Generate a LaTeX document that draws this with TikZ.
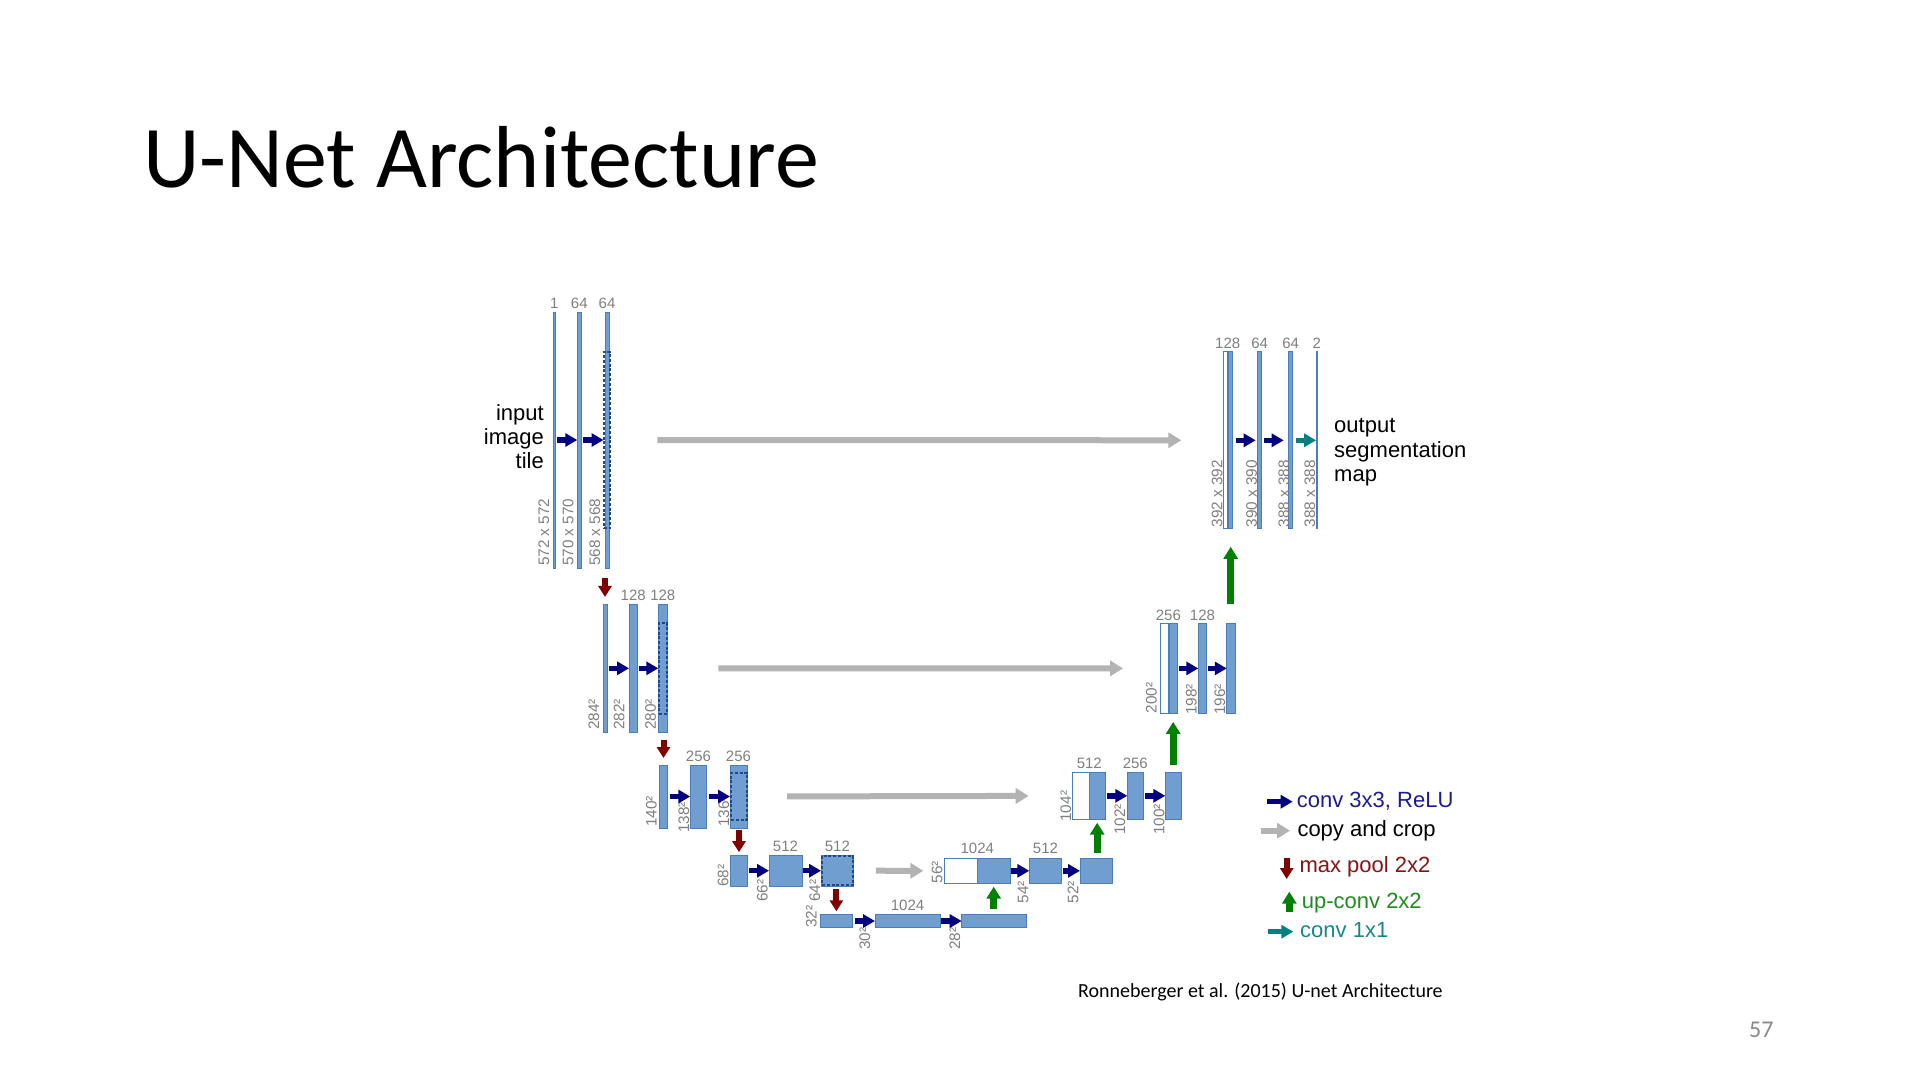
\documentclass[tikz,border=0pt]{standalone}
\usepackage{fontspec}
\setmainfont{Liberation Sans}
\newfontfamily\slidefont{Carlito}
\usetikzlibrary{arrows.meta}

\definecolor{barfill}{RGB}{112,158,209}
\definecolor{barline}{RGB}{74,126,187}
\definecolor{cropline}{RGB}{32,72,142}
\definecolor{convc}{RGB}{0,0,128}
\definecolor{copyc}{RGB}{179,179,179}
\definecolor{poolc}{RGB}{128,0,0}
\definecolor{upc}{RGB}{0,128,0}
\definecolor{onec}{RGB}{0,128,128}
\definecolor{dimc}{RGB}{128,128,128}
\definecolor{pagec}{RGB}{137,137,137}
\definecolor{convtxt}{RGB}{28,28,145}
\definecolor{pooltxt}{RGB}{135,20,20}
\definecolor{uptxt}{RGB}{30,140,30}
\definecolor{onetxt}{RGB}{25,135,135}

\tikzset{
  fmap/.style={draw=barline, fill=barfill, line width=0.8pt, inner sep=0pt, outer sep=0pt},
  cmap/.style={draw=barline, fill=white, line width=0.8pt, inner sep=0pt, outer sep=0pt},
  cropbox/.style={draw=cropline, line width=2pt, dash pattern=on 3pt off 1.8pt, inner sep=0pt, outer sep=0pt},
  conv/.style={draw=convc, line width=5.5pt, -{Triangle[length=12pt,width=13pt]}},
  convone/.style={draw=onec, line width=5.5pt, -{Triangle[length=12pt,width=13pt]}},
  copycrop/.style={draw=copyc, line width=6pt, -{Triangle[length=13pt,width=15pt]}},
  maxpool/.style={draw=poolc, line width=6pt, -{Triangle[length=11pt,width=13pt]}},
  upconv/.style={draw=upc, line width=7pt, -{Triangle[length=12pt,width=14pt]}},
  chan/.style={font=\fontsize{15}{17}\selectfont, text=dimc, inner sep=0pt, anchor=south},
  dim/.style={font=\fontsize{15.3}{17}\selectfont, text=dimc, inner sep=0pt, rotate=90, anchor=south west},
  side/.style={font=\fontsize{22}{24}\selectfont, text=black, inner sep=0pt},
  legend/.style={font=\fontsize{22}{24}\selectfont, inner sep=0pt, anchor=base west}
}

\begin{document}
\begin{tikzpicture}[x=1pt,y=-1pt]
\fill[white] (0,0) rectangle (1920,1080);
\useasboundingbox (0,0) rectangle (1920,1080);

% slide title, source and page number
\node[inner sep=0pt, anchor=base west, font=\slidefont\fontsize{88}{100}\selectfont] (title) at (143,187) {U-Net Architecture};
\node[inner sep=0pt, anchor=base west, font=\slidefont\fontsize{20}{24}\selectfont] (source) at (1078,997) {Ronneberger et al. (2015) U-net Architecture};
\node[inner sep=0pt, anchor=base west, text=pagec, font=\slidefont\fontsize{24}{28}\selectfont] (page) at (1749,1037) {57};

% ---------- contracting path ----------
% level 1
\node[fmap, minimum width=1.2pt, minimum height=256pt] (e1a) at (554.3,440) {};
\node[fmap, minimum width=4pt, minimum height=256pt] (e1b) at (579.3,440) {};
\node[fmap, minimum width=4pt, minimum height=256pt] (e1c) at (607,440) {};
\node[cropbox, minimum width=6.5pt, minimum height=176pt] (k1) at (607,440) {};
% level 2
\node[fmap, minimum width=4pt, minimum height=128.7pt] (e2a) at (605,668.3) {};
\node[fmap, minimum width=8.3pt, minimum height=128.7pt] (e2b) at (633.2,668.3) {};
\node[fmap, minimum width=9pt, minimum height=128.7pt] (e2c) at (662.8,668.3) {};
\node[cropbox, minimum width=8pt, minimum height=90.6pt] (k2) at (662.8,668.3) {};
% level 3
\node[fmap, minimum width=8.4pt, minimum height=63pt] (e3a) at (663.5,796.5) {};
\node[fmap, minimum width=16.4pt, minimum height=63pt] (e3b) at (698.5,796.5) {};
\node[fmap, minimum width=17pt, minimum height=63pt] (e3c) at (738.5,796.5) {};
\node[cropbox, minimum width=15.5pt, minimum height=47.7pt] (k3) at (738.8,796.5) {};
% level 4
\node[fmap, minimum width=16.6pt, minimum height=31pt] (e4a) at (739,870.7) {};
\node[fmap, minimum width=33pt, minimum height=31pt] (e4b) at (785.5,870.7) {};
\node[fmap, minimum width=32.7pt, minimum height=31pt] (e4c) at (837.4,870.7) {};
\node[cropbox, minimum width=31pt, minimum height=29pt] (k4) at (837.4,870.7) {};
% bottom
\node[fmap, minimum width=32.7pt, minimum height=13.4pt] (e5a) at (836.4,921) {};
\node[fmap, minimum width=65pt, minimum height=13.4pt] (e5b) at (907.5,921) {};
\node[fmap, minimum width=65pt, minimum height=13.4pt] (e5c) at (994.2,921) {};

% ---------- expansive path ----------
% level 4
\node[cmap, minimum width=33pt, minimum height=25pt] (d4w) at (960.8,870.8) {};
\node[fmap, minimum width=32.7pt, minimum height=25pt] (d4b) at (993.7,870.8) {};
\node[fmap, minimum width=32.4pt, minimum height=25pt] (d4c) at (1045.5,870.8) {};
\node[fmap, minimum width=32.3pt, minimum height=25pt] (d4d) at (1096.2,870.8) {};
% level 3
\node[cmap, minimum width=16.6pt, minimum height=47pt] (d3w) at (1081,795.8) {};
\node[fmap, minimum width=15.7pt, minimum height=47pt] (d3b) at (1097.2,795.8) {};
\node[fmap, minimum width=16pt, minimum height=47pt] (d3c) at (1135.3,795.8) {};
\node[fmap, minimum width=16.4pt, minimum height=47pt] (d3d) at (1173.5,795.8) {};
% level 2
\node[cmap, minimum width=8.3pt, minimum height=89.6pt] (d2w) at (1164.2,668.4) {};
\node[fmap, minimum width=8.3pt, minimum height=89.6pt] (d2b) at (1173.2,668.4) {};
\node[fmap, minimum width=8.4pt, minimum height=89.6pt] (d2c) at (1202.5,668.4) {};
\node[fmap, minimum width=8.3pt, minimum height=89.6pt] (d2d) at (1230.9,668.4) {};
% level 1
\node[cmap, minimum width=4.4pt, minimum height=177pt] (d1w) at (1225.5,440.3) {};
\node[fmap, minimum width=4pt, minimum height=177pt] (d1b) at (1230.7,440.3) {};
\node[fmap, minimum width=4pt, minimum height=177pt] (d1c) at (1259.7,440.3) {};
\node[fmap, minimum width=4pt, minimum height=177pt] (d1d) at (1290.7,440.3) {};
\node[fmap, minimum width=1.2pt, minimum height=177pt] (d1e) at (1316.7,440.3) {};

% ---------- channel counts ----------
\node[chan] (n1a) at ([yshift=3pt]e1a.north) {1};
\node[chan] (n1b) at ([yshift=3pt]e1b.north) {64};
\node[chan] (n1c) at ([yshift=3pt]e1c.north) {64};
\node[chan] (n2b) at ([yshift=3pt]e2b.north) {128};
\node[chan] (n2c) at ([yshift=3pt]e2c.north) {128};
\node[chan] (n3b) at ([yshift=3pt]e3b.north) {256};
\node[chan] (n3c) at ([yshift=3pt]e3c.north) {256};
\node[chan] (n4b) at ([yshift=3pt]e4b.north) {512};
\node[chan] (n4c) at ([yshift=3pt]e4c.north) {512};
\node[chan] (n5b) at ([yshift=3pt]e5b.north) {1024};
\node[chan] (m4b) at ([yshift=4pt]d4w.north east) {1024};
\node[chan] (m4c) at ([yshift=4pt]d4c.north) {512};
\node[chan] (m3b) at ([yshift=3pt]d3w.north east) {512};
\node[chan] (m3c) at ([yshift=3pt]d3c.north) {256};
\node[chan] (m2b) at ([yshift=3pt]d2w.north east) {256};
\node[chan] (m2c) at ([yshift=3pt]d2c.north) {128};
\node[chan] (m1b) at ([yshift=3pt]d1w.north east) {128};
\node[chan] (m1c) at ([yshift=3pt]d1c.north) {64};
\node[chan] (m1d) at ([yshift=3pt]d1d.north) {64};
\node[chan] (m1e) at ([yshift=3pt]d1e.north) {2};

% ---------- feature map sizes ----------
\node[dim] (s1a) at (549.5,566) {572 x 572};
\node[dim] (s1b) at (573.8,566) {570 x 570};
\node[dim] (s1c) at (600.5,566) {568 x 568};
\node[dim] (s2a) at (599.5,730) {284²};
\node[dim] (s2b) at (624.8,730) {282²};
\node[dim] (s2c) at (656.2,730) {280²};
\node[dim] (s3a) at (657,827) {140²};
\node[dim] (s3b) at (689.5,833) {138²};
\node[dim] (s3c) at (729.5,827) {136²};
\node[dim] (s4a) at (728.8,886.7) {68²};
\node[dim] (s4b) at (768,901.7) {66²};
\node[dim] (s4c) at (820.5,901.7) {64²};
\node[dim] (s5a) at (817,928) {32²};
\node[dim] (s5b) at (870.5,950) {30²};
\node[dim] (s5c) at (960.5,950) {28²};
\node[dim] (t4a) at (942.8,883.3) {56²};
\node[dim] (t4b) at (1028.8,903.3) {54²};
\node[dim] (t4c) at (1078.8,903.3) {52²};
\node[dim] (t3a) at (1071.5,821.7) {104²};
\node[dim] (t3b) at (1125.5,835) {102²};
\node[dim] (t3c) at (1164.8,835) {100²};
\node[dim] (t2a) at (1157,713.3) {200²};
\node[dim] (t2b) at (1197,715) {198²};
\node[dim] (t2c) at (1225.5,715) {196²};
\node[dim] (t1a) at (1222.8,527.5) {392 x 392};
\node[dim] (t1b) at (1257.2,527.5) {390 x 390};
\node[dim] (t1c) at (1289.5,527.5) {388 x 388};
\node[dim] (t1d) at (1315.5,527.5) {388 x 388};

% ---------- input / output captions ----------
\node[side, anchor=base east] (in1) at (544,420) {input};
\node[side, anchor=base east] (in2) at (544,444.2) {image};
\node[side, anchor=base east] (in3) at (544,468.4) {tile};
\node[side, anchor=base west] (out1) at (1334,432.7) {output};
\node[side, anchor=base west] (out2) at (1334,457.2) {segmentation};
\node[side, anchor=base west] (out3) at (1334,481.7) {map};

% ---------- 3x3 convolutions ----------
\draw[conv, shorten <=2pt] (e1a.east) -- (e1b.west);
\draw[conv, shorten <=2pt, shorten >=1.5pt] (e1b.east) -- (e1c.west);
\draw[conv, shorten <=2pt] (e2a.east) -- (e2b.west);
\draw[conv, shorten <=1.5pt] (e2b.east) -- (e2c.west);
\draw[conv, shorten <=2pt] (e3a.east) -- (e3b.west);
\draw[conv, shorten <=2pt] (e3b.east) -- (e3c.west);
\draw[conv, shorten <=1.5pt] (e4a.east) -- (e4b.west);
\draw[conv, shorten <=1pt] (e4b.east) -- (e4c.west);
\draw[conv, shorten <=2pt] (e5a.east) -- (e5b.west);
\draw[conv, shorten <=1pt] (e5b.east) -- (e5c.west);
\draw[conv, shorten <=1pt] (d4b.east) -- (d4c.west);
\draw[conv, shorten <=1pt] (d4c.east) -- (d4d.west);
\draw[conv, shorten <=1.5pt] (d3b.east) -- (d3c.west);
\draw[conv, shorten <=2pt] (d3c.east) -- (d3d.west);
\draw[conv, shorten <=2pt] (d2b.east) -- (d2c.west);
\draw[conv, shorten <=1.5pt] (d2c.east) -- (d2d.west);
\draw[conv, shorten <=3pt, shorten >=2pt] (d1b.east) -- (d1c.west);
\draw[conv, shorten <=2.5pt, shorten >=5pt] (d1c.east) -- (d1d.west);
% 1x1 convolution
\draw[convone, shorten <=3.3pt] (d1d.east) -- (d1e.west);

% ---------- copy and crop ----------
\draw[copycrop, shorten <=47pt, shorten >=42pt] (k1.east) -- (d1w.west);
\draw[copycrop, shorten <=51pt, shorten >=37pt] (e2c.east) -- (d2w.west);
\draw[copycrop, shorten <=40pt, shorten >=44pt] (e3c.east) -- (d3w.west);
\draw[copycrop, shorten <=22pt, shorten >=21pt] (e4c.east) -- (d4w.west);

% ---------- max pooling ----------
\draw[maxpool, shorten <=10pt, shorten >=7pt] (e2a.north |- e1c.south) -- (e2a.north);
\draw[maxpool, shorten <=7pt, shorten >=7pt] (e3a.north |- e2c.south) -- (e3a.north);
\draw[maxpool, shorten <=1.5pt, shorten >=3pt] (e4a.north |- e3c.south) -- (e4a.north);
\draw[maxpool, shorten <=3pt, shorten >=3pt] (e5a.north |- e4c.south) -- (e5a.north);

% ---------- up-convolutions ----------
\draw[upconv, shorten <=5pt, shorten >=3.4pt] (d4b.south |- e5c.north) -- (d4b.south);
\draw[upconv, shorten <=5pt, shorten >=3.4pt] (d3b.south |- d4d.north) -- (d3b.south);
\draw[upconv, shorten <=7.5pt, shorten >=8.7pt] (d2b.south |- d3d.north) -- (d2b.south);
\draw[upconv, shorten <=20pt, shorten >=18pt] (d1b.south |- d2d.north) -- (d1b.south);

% ---------- legend ----------
\coordinate (g1a) at (1267.3,801.7); \coordinate (g1b) at (1292.7,801.7);
\coordinate (g2a) at (1261,830.7);   \coordinate (g2b) at (1290,830.7);
\coordinate (g3a) at (1286.7,858);   \coordinate (g3b) at (1286.7,879);
\coordinate (g4a) at (1289.3,911.7); \coordinate (g4b) at (1289.3,891.7);
\coordinate (g5a) at (1268.3,931.7); \coordinate (g5b) at (1293.3,931.7);
\draw[conv] (g1a) -- (g1b);
\draw[copycrop] (g2a) -- (g2b);
\draw[maxpool] (g3a) -- (g3b);
\draw[upconv] (g4a) -- (g4b);
\draw[convone] (g5a) -- (g5b);
\node[legend, text=convtxt] (l1) at (1296.7,807.3) {conv 3x3, ReLU};
\node[legend, text=black] (l2) at (1297.3,836) {copy and crop};
\node[legend, text=pooltxt] (l3) at (1299.3,872.7) {max pool 2x2};
\node[legend, text=uptxt] (l4) at (1301.7,908.3) {up-conv 2x2};
\node[legend, text=onetxt] (l5) at (1300,937.3) {conv 1x1};
\end{tikzpicture}
\end{document}
